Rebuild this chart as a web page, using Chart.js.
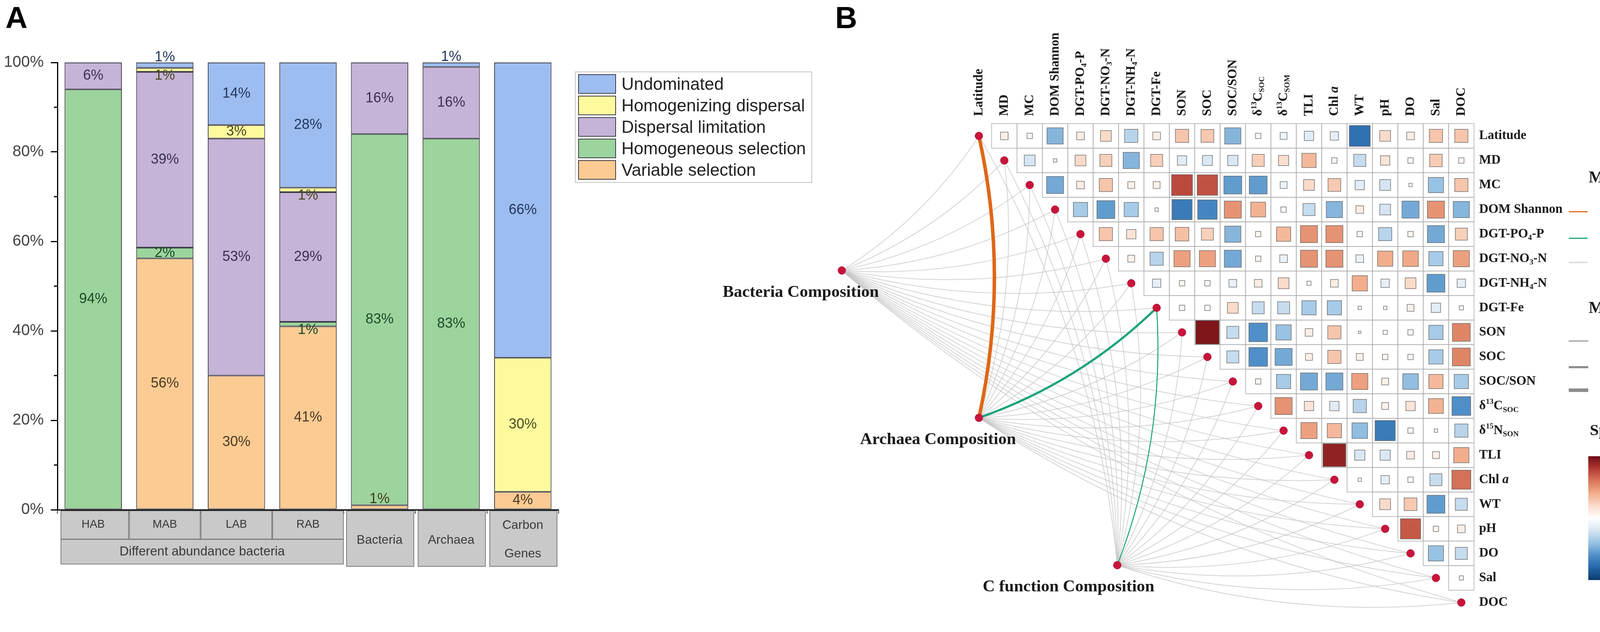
<!DOCTYPE html>
<html>
<head>
<meta charset="utf-8">
<script src="https://cdn.jsdelivr.net/npm/chart.js@4.4.0/dist/chart.umd.min.js"></script>
<style>
  html, body { margin: 0; padding: 0; background: #fff; }
  body { width: 4328px; height: 1618px; position: relative; overflow: hidden; font-family: "Liberation Sans", Arial, sans-serif; }
  #chartA { position: absolute; left: 0; top: 0; }
  #chartB { position: absolute; left: 1800px; top: 0; }
  .tag { position: absolute; top: 0; font: bold 78px "Liberation Sans", Arial, sans-serif; color: #000; }
  #legendA { position: absolute; left: 1472px; top: 183px; width: 603px; height: 281px; border: 2px solid #c4c4c4; }
  .lg-row { position: absolute; left: 6px; height: 50px; display: flex; align-items: center; }
  .lg-box { width: 93px; height: 46px; border: 2px solid #3c3c46; }
  .lg-text { margin-left: 14px; font-size: 44px; color: #222; white-space: nowrap; }
</style>
</head>
<body>
<div class="tag" style="left:14px">A</div>
<div class="tag" style="left:2138px">B</div>
<canvas id="chartA" width="1800" height="1618"></canvas>
<div id="legendA"></div>
<canvas id="chartB" width="2528" height="1618"></canvas>
<script>
// ---------- panel A data ----------
const categories = ['HAB', 'MAB', 'LAB', 'RAB', 'Bacteria', 'Archaea', ['Carbon', 'Genes']];
const groupName = 'Different abundance bacteria';
const groupMembers = [0, 1, 2, 3];

const variableSelection     = [0, 56.2, 30, 41, 1, 0, 4];
const homogeneousSelection  = [94, 2.4, 0, 1, 83, 83, 0];
const dispersalLimitation   = [6, 39.3, 53, 29, 16, 16, 0];
const homogenizingDispersal = [0, 0.9, 3, 1, 0, 0, 30];
const undominated           = [0, 1.2, 14, 28, 0, 1, 66];

const seriesNames = ['Variable selection', 'Homogeneous selection', 'Dispersal limitation', 'Homogenizing dispersal', 'Undominated'];
const seriesValues = [variableSelection, homogeneousSelection, dispersalLimitation, homogenizingDispersal, undominated];
const seriesFill = ['#fccb93', '#9cd49d', '#c6b3d8', '#fdfa9e', '#9dbdf1'];
const seriesInk = ['#4a3a24', '#1d4a25', '#3a3150', '#4a4a20', '#23375c'];

// ---------- panel B data ----------
const variables = ['Latitude', 'MD', 'MC', 'DOM Shannon', 'DGT-PO{_4}-P', 'DGT-NO{_3}-N', 'DGT-NH{_4}-N', 'DGT-Fe',
  'SON', 'SOC', 'SOC/SON', 'δ{^13}C{_SOC}', 'δ{^15}N{_SON}', 'TLI', 'Chl {i a}', 'WT', 'pH', 'DO', 'Sal', 'DOC'];
const columnHeaders = ['Latitude', 'MD', 'MC', 'DOM Shannon', 'DGT-PO{_4}-P', 'DGT-NO{_3}-N', 'DGT-NH{_4}-N', 'DGT-Fe',
  'SON', 'SOC', 'SOC/SON', 'δ{^13}C{_SOC}', 'δ{^13}C{_SOM}', 'TLI', 'Chl {i a}', 'WT', 'pH', 'DO', 'Sal', 'DOC'];

// Spearman's r, upper triangle: row i holds columns i+1 .. 19
const spearmanRows = [
  [0.10, 0.05, -0.45, 0.10, 0.20, -0.30, 0.10, 0.30, 0.28, -0.45, 0.05, -0.08, -0.15, -0.12, -0.75, 0.20, 0.10, 0.30, 0.30],
  [-0.20, 0.02, 0.20, 0.25, -0.45, 0.25, -0.15, -0.17, -0.18, 0.25, 0.18, 0.35, 0.05, -0.25, 0.15, 0.05, 0.27, 0.05],
  [-0.50, 0.10, 0.30, 0.08, 0.08, 0.75, 0.72, -0.55, -0.55, -0.08, 0.20, 0.28, -0.15, -0.20, 0.02, -0.40, 0.30],
  [-0.35, -0.55, -0.35, 0.02, -0.70, -0.65, 0.50, 0.38, 0.05, -0.25, -0.45, 0.10, -0.20, -0.50, 0.50, -0.45],
  [0.30, 0.15, 0.30, 0.32, 0.25, -0.45, 0.05, 0.35, 0.50, 0.50, 0.05, -0.30, 0.05, -0.50, 0.25],
  [0.08, -0.30, 0.45, 0.45, -0.50, 0.05, -0.10, 0.50, 0.50, -0.10, 0.40, 0.42, -0.35, 0.45],
  [-0.12, 0.05, 0.05, -0.10, 0.10, 0.20, 0.03, 0.10, 0.40, -0.12, 0.20, -0.55, -0.12],
  [0.05, 0.05, 0.20, -0.25, -0.25, -0.35, -0.35, 0.02, 0.02, 0.08, -0.15, 0.03],
  [0.95, -0.25, -0.60, -0.40, 0.10, 0.30, 0.01, -0.03, 0.05, -0.35, 0.55],
  [-0.25, -0.60, -0.50, 0.08, 0.30, 0.08, 0.05, 0.05, -0.35, 0.55],
  [0.05, -0.35, -0.50, -0.50, 0.45, 0.08, -0.42, 0.35, -0.35],
  [0.50, 0.15, -0.15, -0.30, 0.08, 0.15, 0.38, -0.60],
  [0.45, 0.35, -0.42, -0.70, 0.05, 0.02, -0.30],
  [0.90, -0.18, -0.18, 0.10, 0.08, 0.40],
  [0.02, -0.12, 0.05, -0.25, 0.62],
  [0.20, 0.28, -0.55, -0.25],
  [0.70, 0.05, 0.10],
  [-0.40, -0.25],
  [0.03]
];

const compositions = ['Bacteria Composition', 'Archaea Composition', 'C function Composition'];
// Mantel's p class: 0 = >=0.05, 1 = 0.01-0.05, 2 = <0.01
const bacteriaMantelP  = [0, 0, 0, 0, 0, 0, 0, 0, 0, 0, 0, 0, 0, 0, 0, 0, 0, 0, 0, 0];
const archaeaMantelP   = [2, 0, 0, 0, 0, 0, 0, 1, 0, 0, 0, 0, 0, 0, 0, 0, 0, 0, 0, 0];
const cFunctionMantelP = [0, 0, 0, 0, 0, 0, 0, 1, 0, 0, 0, 0, 0, 0, 0, 0, 0, 0, 0, 0];
// Mantel's r class: 0 = <0.2, 1 = 0.2-0.4, 2 = >=0.4
const bacteriaMantelR  = [0, 0, 0, 0, 0, 0, 0, 0, 0, 0, 0, 0, 0, 0, 0, 0, 0, 0, 0, 0];
const archaeaMantelR   = [2, 0, 0, 0, 0, 0, 0, 1, 0, 0, 0, 0, 0, 0, 0, 0, 0, 0, 0, 0];
const cFunctionMantelR = [0, 0, 0, 0, 0, 0, 0, 0, 0, 0, 0, 0, 0, 0, 0, 0, 0, 0, 0, 0];

const pLegendLabels = ['<0.01', '0.01-0.05', '>=0.05'];
const rLegendLabels = ['<0.2', '0.2-0.4', '>=0.4'];
const colorbarTicks = [1, 0.5, 0, -0.5, -1];
const colorbarLabels = ['1.0', '0.5', '0.0', '0.5', '1.0'];

// ---------- layout / style ----------
const CELL = 65;
const B_LEFT = 1800;                       // page x of chart B canvas
const nodeAnchor = [{ x: -5.4, y: 5.48 }, { x: 0, y: 11.48 }, { x: 5.45, y: 17.48 }];
const pColors = ['rgba(196,196,196,0.75)', '#1ba37c', '#df6718'];
const rWidths = [2.5, 5.5, 9];
const rampValues = [1, 0.8, 0.6, 0.4, 0.2, 0, -0.2, -0.4, -0.6, -0.8, -1];
const rampColors = ['#6d0a12', '#b23a33', '#d8775a', '#f2ae8c', '#fadbc9', '#ffffff', '#d5e5f3', '#98c2e3', '#4f8fc8', '#2466a8', '#0b3a6c'];
const SERIF = '"Liberation Serif", "Times New Roman", serif';
const MONO = '"Liberation Mono", "Courier New", monospace';

function hexRgb(h) { return [1, 3, 5].map(i => parseInt(h.slice(i, i + 2), 16)); }
function spearmanColor(v) {
  v = Math.max(-1, Math.min(1, v));
  for (let i = 0; i < rampValues.length - 1; i++) {
    const a = rampValues[i], b = rampValues[i + 1];
    if (v <= a && v >= b) {
      const t = (a - v) / (a - b);
      const c0 = hexRgb(rampColors[i]), c1 = hexRgb(rampColors[i + 1]);
      const c = c0.map((q, j) => Math.round(q + (c1[j] - q) * t));
      return `rgb(${c[0]},${c[1]},${c[2]})`;
    }
  }
  return '#fff';
}

function richParts(s) {
  const parts = [];
  s.replace(/\{(_|\^|i )([^}]*)\}|([^{]+)/g, (m, tag, inner, plain) => {
    if (plain) parts.push({ t: plain, k: 'n' });
    else parts.push({ t: inner, k: tag.trim() });
    return m;
  });
  return parts;
}
function drawRich(ctx, s, x, y, size, align, weight) {
  const parts = richParts(s);
  const fontFor = p => {
    const small = p.k === '_' || p.k === '^';
    return `${p.k === 'i' ? 'italic ' : ''}${weight} ${small ? size * 0.6 : size}px ${SERIF}`;
  };
  let total = 0;
  parts.forEach(p => { ctx.font = fontFor(p); p.w = ctx.measureText(p.t).width; total += p.w; });
  let cx = align === 'right' ? x - total : align === 'center' ? x - total / 2 : x;
  ctx.textAlign = 'left';
  ctx.textBaseline = 'middle';
  parts.forEach(p => {
    ctx.font = fontFor(p);
    const dy = p.k === '_' ? size * 0.3 : p.k === '^' ? -size * 0.32 : 0;
    ctx.fillText(p.t, cx, y + dy);
    cx += p.w;
  });
}

// ---------- panel A ----------
const minorTicks = {
  id: 'minorTicks',
  afterDraw(chart) {
    const { ctx, scales: { y } } = chart;
    ctx.save();
    ctx.strokeStyle = '#000';
    ctx.lineWidth = 3;
    [10, 30, 50, 70, 90].forEach(v => {
      const py = y.getPixelForValue(v);
      ctx.beginPath(); ctx.moveTo(y.right - 9, py); ctx.lineTo(y.right, py); ctx.stroke();
    });
    ctx.restore();
  }
};

const segmentLabels = {
  id: 'segmentLabels',
  afterDatasetsDraw(chart) {
    const { ctx } = chart;
    ctx.save();
    ctx.font = '36px "Liberation Sans", Arial, sans-serif';
    ctx.textAlign = 'center';
    ctx.textBaseline = 'middle';
    chart.data.labels.forEach((lab, i) => {
      const stack = chart.data.datasets.map(ds => ds.data[i]);
      const first = stack.findIndex(v => v > 0);
      let last = -1;
      stack.forEach((v, d) => { if (v > 0) last = d; });
      chart.data.datasets.forEach((ds, d) => {
        const v = ds.data[i];
        if (!(v > 0)) return;
        const bar = chart.getDatasetMeta(d).data[i];
        let py = (bar.y + bar.base) / 2;
        if (v < 2) py += (d === first || d === last) ? -20 : 15;
        ctx.fillStyle = seriesInk[d];
        ctx.fillText(Math.round(v) + '%', bar.x, py);
      });
    });
    ctx.restore();
  }
};

const categoryBoxes = {
  id: 'categoryBoxes',
  afterDraw(chart) {
    const { ctx, scales: { x } } = chart;
    const half = (x.getPixelForValue(1) - x.getPixelForValue(0)) / 2;
    ctx.save();
    ctx.lineWidth = 2;
    const box = (l, t, r, b) => {
      ctx.fillStyle = '#c9c9c9'; ctx.fillRect(l, t, r - l, b - t);
      ctx.strokeStyle = '#7d7d7d'; ctx.strokeRect(l, t, r - l, b - t);
    };
    const text = (s, cx, cy, size) => {
      ctx.fillStyle = '#3a3a3a';
      ctx.font = `${size}px "Liberation Sans", Arial, sans-serif`;
      ctx.textAlign = 'center'; ctx.textBaseline = 'middle';
      ctx.fillText(s, cx, cy);
    };
    chart.data.labels.forEach((lab, i) => {
      const c = x.getPixelForValue(i);
      if (groupMembers.includes(i)) {
        box(c - half + (i === 0 ? 9 : 1), 1308, c + half - 1, 1380);
        text(lab, c, 1343, 29);
      } else {
        box(c - half + 7, 1308, c + half - 4, 1450);
        if (Array.isArray(lab)) { text(lab[0], c, 1345, 32); text(lab[1], c, 1418, 32); }
        else text(lab, c, 1383, 32);
      }
    });
    const gl = x.getPixelForValue(groupMembers[0]) - half + 9;
    const gr = x.getPixelForValue(groupMembers[groupMembers.length - 1]) + half - 1;
    box(gl, 1381, gr, 1444);
    text(groupName, (gl + gr) / 2, 1413, 33);
    ctx.restore();
  }
};

const panelA = new Chart(document.getElementById('chartA'), {
  type: 'bar',
  data: {
    labels: categories,
    datasets: seriesNames.map((name, d) => ({
      label: name,
      data: seriesValues[d],
      backgroundColor: seriesFill[d],
      borderColor: '#3c3c46',
      borderWidth: 2,
      borderSkipped: false,
      categoryPercentage: 1.0,
      barPercentage: 0.8
    }))
  },
  options: {
    responsive: false,
    animation: false,
    devicePixelRatio: 1,
    layout: { padding: { left: 0, top: 160, right: 370, bottom: 299 } },
    plugins: { legend: { display: false }, tooltip: { enabled: false } },
    scales: {
      x: {
        stacked: true,
        ticks: { display: false },
        grid: { display: true, drawOnChartArea: false, offset: true, tickLength: 10, color: '#333', lineWidth: 2 },
        border: { display: true, color: '#000', width: 3 },
        afterFit: s => { s.height = 14; }
      },
      y: {
        stacked: true,
        min: 0,
        max: 100,
        ticks: {
          stepSize: 20,
          padding: 18,
          color: '#444',
          font: { family: '"Liberation Sans", Arial, sans-serif', size: 40 },
          callback: v => v + '%'
        },
        grid: { drawOnChartArea: false, tickLength: 17, color: '#000', lineWidth: 3 },
        border: { color: '#000', width: 3 },
        afterFit: s => { s.width = 147; }
      }
    }
  },
  plugins: [minorTicks, segmentLabels, categoryBoxes]
});

// legend for panel A built from the chart's datasets (top = last stacked)
const legendA = document.getElementById('legendA');
panelA.data.datasets.slice().reverse().forEach((ds, k) => {
  const row = document.createElement('div');
  row.className = 'lg-row';
  row.style.top = (5 + 55 * k) + 'px';
  const sw = document.createElement('div');
  sw.className = 'lg-box';
  sw.style.background = ds.backgroundColor;
  const tx = document.createElement('div');
  tx.className = 'lg-text';
  tx.textContent = ds.label;
  row.appendChild(sw); row.appendChild(tx);
  legendA.appendChild(row);
});

// ---------- panel B ----------
const mantelP = [bacteriaMantelP, archaeaMantelP, cFunctionMantelP];
const mantelR = [bacteriaMantelR, archaeaMantelR, cFunctionMantelR];

const cellPoints = [];
spearmanRows.forEach((vals, row) => vals.forEach((r, k) => cellPoints.push({ x: row + 1 + k, y: row, r })));
const dotPoints = variables.map((v, i) => ({ x: i, y: i })).concat(nodeAnchor.map(a => ({ x: a.x, y: a.y })));

const matrixDecor = {
  id: 'matrixDecor',
  beforeDatasetsDraw(chart) {
    const { ctx, scales: { x, y } } = chart;
    const cw = x.getPixelForValue(1) - x.getPixelForValue(0);
    const ch = y.getPixelForValue(1) - y.getPixelForValue(0);
    ctx.save();
    // cell frames of the upper triangle
    ctx.strokeStyle = '#a8a8a8';
    ctx.lineWidth = 1.5;
    spearmanRows.forEach((vals, row) => vals.forEach((r, k) => {
      const c = row + 1 + k;
      ctx.strokeRect(x.getPixelForValue(c - 0.5), y.getPixelForValue(row - 0.5), cw, ch);
    }));
    // Mantel links, non-significant first
    const links = [];
    compositions.forEach((name, k) => variables.forEach((v, i) => links.push({ k, i, p: mantelP[k][i], r: mantelR[k][i] })));
    links.sort((a, b) => a.p - b.p);
    ctx.lineCap = 'round';
    links.forEach(l => {
      const x0 = x.getPixelForValue(nodeAnchor[l.k].x), y0 = y.getPixelForValue(nodeAnchor[l.k].y);
      const x1 = x.getPixelForValue(l.i), y1 = y.getPixelForValue(l.i);
      const dx = x1 - x0, dy = y1 - y0;
      const cx = (x0 + x1) / 2 - 0.11 * dy, cy = (y0 + y1) / 2 + 0.11 * dx;
      ctx.beginPath();
      ctx.moveTo(x0, y0);
      ctx.quadraticCurveTo(cx, cy, x1, y1);
      ctx.strokeStyle = pColors[l.p];
      ctx.lineWidth = l.p === 0 ? 2 : rWidths[l.r];
      ctx.stroke();
    });
    ctx.restore();
  },
  afterDatasetsDraw(chart) {
    const { ctx, scales: { x, y } } = chart;
    const X = px => px - B_LEFT;
    ctx.save();
    ctx.fillStyle = '#1a1a1a';
    // column headers
    columnHeaders.forEach((h, i) => {
      ctx.save();
      ctx.translate(x.getPixelForValue(i), 297);
      ctx.rotate(-Math.PI / 2);
      drawRich(ctx, h, 0, 0, 33, 'left', 'bold');
      ctx.restore();
    });
    // row labels
    const labelX = x.getPixelForValue(19.5) + 13;
    variables.forEach((v, i) => drawRich(ctx, v, labelX, y.getPixelForValue(i), 33, 'left', 'bold'));
    // composition labels
    compositions.forEach((c, k) => {
      drawRich(ctx, c, x.getPixelForValue(nodeAnchor[k].x) + 95, y.getPixelForValue(nodeAnchor[k].y) + 56, 43, 'right', 'bold');
    });
    // Mantel's p legend
    ctx.fillStyle = '#1a1a1a';
    drawRich(ctx, 'Mantei’s p', X(4067), 456, 42, 'left', 'bold');
    const pRows = [542, 610, 672];
    [2, 1, 0].forEach((cls, j) => {
      ctx.strokeStyle = pColors[cls]; ctx.lineWidth = 3;
      ctx.beginPath(); ctx.moveTo(X(4016), pRows[j]); ctx.lineTo(X(4064), pRows[j]); ctx.stroke();
      ctx.fillStyle = '#1a1a1a';
      ctx.font = `42px ${MONO}`; ctx.textAlign = 'left'; ctx.textBaseline = 'middle';
      ctx.fillText(pLegendLabels[j], X(4104), pRows[j]);
    });
    // Mantel's r legend
    drawRich(ctx, 'Mantei’s r', X(4067), 790, 42, 'left', 'bold');
    const rRows = [873, 940, 999];
    [0, 1, 2].forEach((cls, j) => {
      ctx.strokeStyle = '#8c8c8c'; ctx.lineWidth = rWidths[cls];
      ctx.beginPath(); ctx.moveTo(X(4016), rRows[j]); ctx.lineTo(X(4066), rRows[j]); ctx.stroke();
      ctx.fillStyle = '#1a1a1a';
      ctx.font = `42px ${MONO}`; ctx.textAlign = 'left'; ctx.textBaseline = 'middle';
      ctx.fillText(rLegendLabels[j], X(4108), rRows[j]);
    });
    // Spearman colour bar
    drawRich(ctx, "Spearman's r", X(4070), 1103, 41, 'left', 'bold');
    const barTop = 1168, barH = 317, barL = X(4066), barW = 62;
    const g = ctx.createLinearGradient(0, barTop, 0, barTop + barH);
    rampValues.forEach(v => g.addColorStop((1 - v) / 2, spearmanColor(v)));
    ctx.fillStyle = g;
    ctx.fillRect(barL, barTop, barW, barH);
    ctx.fillStyle = '#1a1a1a';
    ctx.font = `38px ${MONO}`; ctx.textAlign = 'left'; ctx.textBaseline = 'middle';
    colorbarTicks.forEach((v, j) => ctx.fillText(colorbarLabels[j], X(4146), barTop + 7 + (1 - v) / 2 * (barH + 6)));
    ctx.restore();
  }
};

new Chart(document.getElementById('chartB'), {
  type: 'scatter',
  data: {
    datasets: [
      {
        label: "Spearman's r",
        data: cellPoints,
        clip: false,
        pointStyle: 'rect',
        pointRadius: c => Math.max(4, Math.sqrt(Math.abs(c.raw.r)) * CELL * 0.95) / (2 * Math.SQRT1_2),
        pointBackgroundColor: c => spearmanColor(c.raw.r),
        pointBorderColor: 'rgba(95,95,95,0.85)',
        pointBorderWidth: 1.5
      },
      {
        label: 'nodes',
        data: dotPoints,
        clip: false,
        pointStyle: 'circle',
        pointRadius: 10,
        pointBackgroundColor: '#c8143c',
        pointBorderColor: '#a8102f',
        pointBorderWidth: 1
      }
    ]
  },
  options: {
    responsive: false,
    animation: false,
    devicePixelRatio: 1,
    layout: { padding: { left: 316, right: 554.5, top: 316.5, bottom: 1.5 } },
    plugins: { legend: { display: false }, tooltip: { enabled: false } },
    scales: {
      x: { type: 'linear', min: -6, max: 19.5, display: false },
      y: { type: 'linear', min: -0.5, max: 19.5, reverse: true, display: false }
    }
  },
  plugins: [matrixDecor]
});
</script>
</body>
</html>
